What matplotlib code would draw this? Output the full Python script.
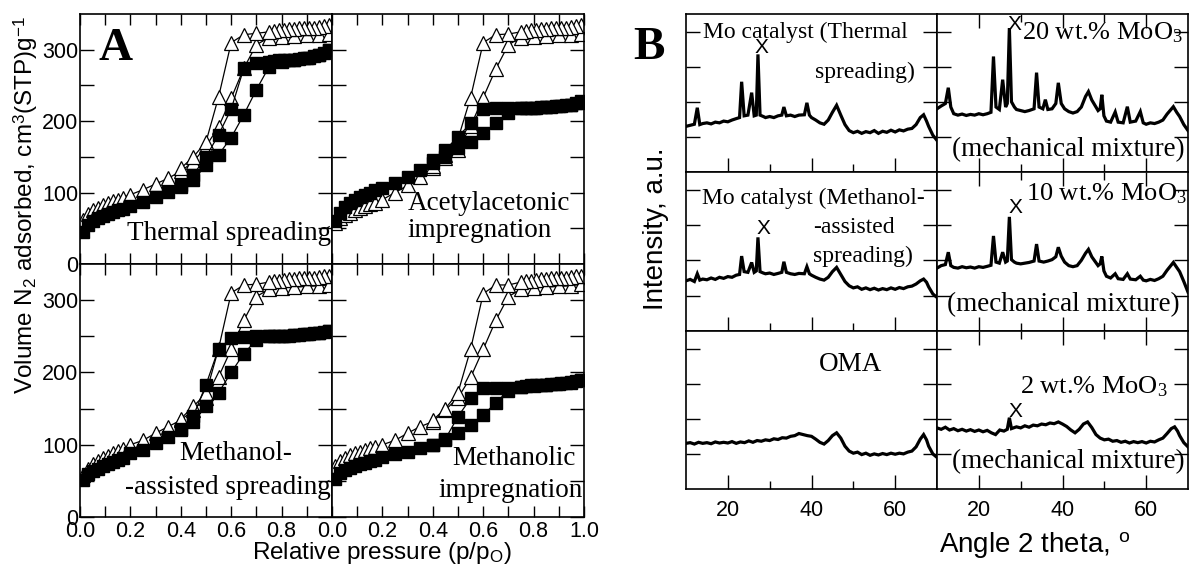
import numpy as np
import matplotlib
matplotlib.use('Agg')
import matplotlib.pyplot as plt

plt.rcParams['font.family'] = ['Liberation Sans', 'DejaVu Sans']
plt.rcParams['mathtext.fontset'] = 'custom'
plt.rcParams['mathtext.rm'] = 'Liberation Serif'
plt.rcParams['mathtext.sf'] = 'Liberation Sans'
plt.rcParams['mathtext.it'] = 'Liberation Serif:italic'
SERIF = ['Liberation Serif', 'DejaVu Serif']

# ---------------- panel A: N2 isotherms ----------------
P_ADS = [0.01, 0.03, 0.05, 0.07, 0.09, 0.11, 0.13, 0.15, 0.17, 0.20, 0.25, 0.30, 0.35,
         0.40, 0.45, 0.50, 0.55, 0.60, 0.65, 0.70, 0.75, 0.80, 0.85, 0.90, 0.95, 0.99]
P_DES = [0.99, 0.97, 0.95, 0.93, 0.91, 0.89, 0.87, 0.85, 0.83, 0.81, 0.79, 0.77, 0.75,
         0.70, 0.65, 0.60, 0.55, 0.50, 0.45, 0.40]

# open triangles (support) and filled squares (Mo catalyst)
TS_TRI_ADS = [62, 70, 75, 79, 82, 85, 88, 90, 93, 97, 104, 112, 120, 130, 143, 165, 192, 232, 274, 307, 317, 318, 319, 320, 321, 322]
TS_TRI_DES = [334, 333, 332, 331, 331, 330, 330, 329, 329, 328, 327, 326, 325, 323, 321, 310, 234, 171, 150, 134]
TS_SQ_ADS = [45, 54, 60, 64, 67, 70, 73, 75, 77, 81, 87, 94, 101, 108, 118, 138, 153, 177, 209, 244, 276, 283, 285, 288, 292, 300]
TS_SQ_DES = [300, 296, 293, 291, 289, 288, 287, 286, 286, 285, 285, 284, 283, 282, 274, 217, 181, 150, 125, 110]

AI_TRI_ADS = [58, 64, 68, 72, 75, 78, 81, 84, 86, 90, 100, 110, 122, 134, 148, 160, 193, 233, 273, 307, 317, 318, 319, 320, 321, 322]
AI_TRI_DES = [334, 333, 332, 331, 331, 330, 330, 329, 329, 328, 327, 326, 325, 322, 321, 310, 233, 175, 152, 137]
AI_SQ_ADS = [60, 72, 80, 86, 90, 94, 97, 100, 103, 107, 114, 122, 132, 141, 150, 163, 171, 183, 198, 211, 218, 219, 220, 221, 223, 226]
AI_SQ_DES = [228, 225, 223, 222, 221, 221, 220, 220, 220, 219, 219, 219, 218, 218, 218, 217, 197, 178, 160, 145]

MA_TRI_ADS = [58, 67, 73, 78, 82, 85, 88, 91, 94, 100, 106, 116, 125, 134, 148, 165, 194, 232, 272, 305, 315, 317, 318, 319, 320, 321]
MA_TRI_DES = [334, 333, 332, 331, 331, 330, 330, 329, 329, 328, 327, 326, 325, 322, 321, 310, 233, 171, 153, 136]
MA_SQ_ADS = [51, 60, 64, 67, 70, 73, 76, 79, 82, 88, 93, 103, 111, 120, 132, 153, 172, 200, 226, 245, 250, 251, 252, 253, 255, 258]
MA_SQ_DES = [258, 256, 255, 254, 253, 253, 252, 252, 251, 251, 251, 250, 250, 250, 249, 247, 233, 183, 140, 122]

MI_TRI_ADS = [70, 78, 82, 86, 88, 90, 92, 95, 97, 100, 106, 116, 125, 132, 148, 165, 193, 232, 272, 305, 315, 317, 318, 319, 320, 322]
MI_TRI_DES = [334, 333, 332, 331, 331, 330, 330, 329, 329, 328, 327, 326, 325, 321, 321, 309, 232, 172, 150, 134]
MI_SQ_ADS = [53, 61, 65, 68, 71, 73, 75, 77, 79, 83, 87, 90, 95, 100, 106, 116, 127, 141, 158, 175, 180, 181, 182, 184, 186, 190]
MI_SQ_DES = [190, 188, 187, 186, 185, 184, 184, 183, 183, 182, 182, 181, 180, 179, 179, 178, 164, 139, 108, 100]

# ---------------- panel B: XRD patterns (2theta, intensity) ----------------
XRD_TS = [(10, 1.30), (11, 1.33), (12, 1.36), (12.7, 1.83), (13.3, 1.35), (14, 1.38), (15, 1.40), (16, 1.37),
          (17, 1.42), (18, 1.40), (19, 1.45), (20, 1.43), (21, 1.48), (22, 1.52), (22.8, 1.55), (23.3, 2.57),
          (23.9, 1.60), (24.8, 1.62), (25.7, 2.26), (26.3, 1.60), (26.8, 1.62), (27.2, 3.35), (27.7, 1.62),
          (28.5, 1.58), (29, 1.55), (30, 1.58), (31, 1.55), (32, 1.60), (32.9, 1.62), (33.4, 1.85), (34, 1.60),
          (35, 1.62), (36, 1.58), (37, 1.62), (38.3, 1.63), (38.9, 1.97), (39.5, 1.62), (40, 1.55), (41, 1.48),
          (42, 1.40), (43, 1.36), (44, 1.48), (45, 1.70), (46, 1.90), (47, 1.62), (48, 1.35), (49, 1.18),
          (50, 1.12), (51, 1.16), (52, 1.10), (53, 1.15), (54, 1.12), (55, 1.18), (56, 1.10), (57, 1.16),
          (58, 1.13), (59, 1.19), (60, 1.14), (61, 1.20), (62, 1.17), (63, 1.22), (64, 1.24), (65, 1.35),
          (66, 1.55), (66.8, 1.63), (67.5, 1.45), (68, 1.30), (69, 1.05), (70, 0.90)]
XRD_MA = [(10, 1.42), (11, 1.46), (12, 1.40), (12.7, 1.62), (13.3, 1.44), (14, 1.47), (15, 1.45), (16, 1.50),
          (17, 1.46), (18, 1.52), (19, 1.49), (20, 1.54), (21, 1.52), (22, 1.58), (22.8, 1.60), (23.3, 2.12),
          (23.9, 1.68), (24.8, 1.66), (25.7, 1.94), (26.3, 1.66), (26.8, 1.70), (27.2, 2.65), (27.7, 1.68),
          (28.5, 1.64), (29, 1.62), (30, 1.64), (31, 1.60), (32, 1.63), (32.9, 1.66), (33.4, 1.96), (34, 1.66),
          (35, 1.62), (36, 1.60), (37, 1.63), (38.3, 1.62), (38.9, 1.82), (39.5, 1.62), (40, 1.58), (41, 1.52),
          (42, 1.47), (43, 1.44), (44, 1.52), (45, 1.68), (46, 1.80), (47, 1.60), (48, 1.40), (49, 1.28),
          (50, 1.22), (51, 1.25), (52, 1.18), (53, 1.22), (54, 1.17), (55, 1.21), (56, 1.16), (57, 1.20),
          (58, 1.17), (59, 1.22), (60, 1.18), (61, 1.23), (62, 1.20), (63, 1.25), (64, 1.27), (65, 1.33),
          (66, 1.42), (66.8, 1.47), (67.5, 1.38), (68, 1.25), (69, 1.05), (70, 0.95)]
XRD_OMA = [(10, 1.30), (11, 1.32), (12, 1.28), (13, 1.33), (14, 1.30), (15, 1.32), (16, 1.29), (17, 1.34),
           (18, 1.31), (19, 1.33), (20, 1.31), (21, 1.35), (22, 1.30), (23, 1.34), (24, 1.32), (25, 1.37),
           (26, 1.33), (27, 1.38), (28, 1.36), (29, 1.40), (30, 1.38), (31, 1.43), (32, 1.41), (33, 1.46),
           (34, 1.45), (35, 1.50), (36, 1.52), (37, 1.58), (38, 1.55), (39, 1.52), (40, 1.50), (41, 1.42),
           (42, 1.33), (43, 1.28), (44, 1.38), (45, 1.52), (46, 1.60), (47, 1.45), (48, 1.22), (49, 1.08),
           (50, 1.02), (51, 1.05), (52, 0.98), (53, 1.02), (54, 0.96), (55, 1.00), (56, 0.97), (57, 1.01),
           (58, 0.98), (59, 1.02), (60, 0.99), (61, 1.02), (62, 1.00), (63, 1.05), (64, 1.08), (65, 1.20),
           (66, 1.42), (66.8, 1.55), (67.5, 1.40), (68, 1.22), (69, 1.00), (70, 0.90)]
XRD_20 = [(10, 1.80), (11, 1.88), (12, 1.95), (12.7, 2.40), (13.3, 1.85), (14, 1.66), (15, 1.62), (16, 1.65),
          (17, 1.61), (18, 1.64), (19, 1.62), (20, 1.66), (21, 1.63), (22, 1.66), (22.9, 1.70), (23.5, 3.29),
          (24.1, 1.85), (24.9, 1.78), (25.7, 2.63), (26.4, 1.85), (26.8, 1.95), (27.3, 4.10), (27.8, 2.00),
          (28.5, 1.85), (29, 1.78), (30, 1.75), (31, 1.72), (32, 1.75), (33.2, 1.80), (33.8, 2.83), (34.4, 1.85),
          (35.3, 1.80), (35.9, 2.06), (36.5, 1.78), (37.5, 1.80), (38.4, 1.95), (39.0, 2.54), (39.7, 1.95),
          (40.5, 1.80), (41.5, 1.72), (42.5, 1.68), (43.5, 1.72), (44.5, 1.85), (45.5, 2.15), (46.2, 2.29),
          (47, 2.05), (48.5, 1.75), (49.0, 1.80), (49.4, 2.20), (49.9, 1.60), (50.5, 1.45), (51.5, 1.42),
          (52.6, 1.71), (53.3, 1.42), (54.5, 1.40), (55.5, 1.86), (56.2, 1.42), (57.5, 1.45), (58.6, 1.72),
          (59.3, 1.40), (60, 1.36), (61, 1.40), (62, 1.38), (63, 1.42), (64, 1.48), (65, 1.65), (66.5, 1.86),
          (67.3, 1.70), (68, 1.58), (69, 1.35), (70, 1.18)]
XRD_10 = [(10, 1.78), (11, 1.85), (12, 1.88), (12.7, 2.23), (13.3, 1.85), (14, 1.80), (15, 1.78), (16, 1.82),
          (17, 1.79), (18, 1.81), (19, 1.78), (20, 1.82), (21, 1.80), (22, 1.83), (22.9, 1.86), (23.5, 2.69),
          (24.1, 1.95), (24.9, 1.92), (25.7, 2.23), (26.4, 1.95), (26.8, 1.98), (27.3, 3.23), (27.8, 2.02),
          (28.5, 1.95), (29, 1.92), (30, 1.90), (31, 1.92), (32, 1.94), (33.2, 1.98), (33.8, 2.46), (34.4, 1.98),
          (35.5, 1.95), (36.5, 1.98), (37.5, 2.02), (38.4, 2.10), (39.0, 2.37), (39.7, 2.12), (40.5, 1.95),
          (41.5, 1.85), (42.5, 1.82), (43.5, 1.85), (44.5, 2.00), (45.5, 2.20), (46.2, 2.31), (47, 2.10),
          (48.5, 1.85), (49.0, 1.90), (49.4, 2.11), (49.9, 1.70), (50.5, 1.55), (51.5, 1.50), (52.6, 1.62),
          (53.3, 1.48), (54.5, 1.46), (55.5, 1.62), (56.2, 1.47), (57.5, 1.45), (58.6, 1.55), (59.3, 1.44),
          (60, 1.42), (61, 1.46), (62, 1.43), (63, 1.48), (64, 1.55), (65, 1.72), (66.5, 1.94), (67.3, 1.80),
          (68, 1.68), (69, 1.40), (70, 1.10)]
XRD_2 = [(10, 1.74), (11, 1.70), (12, 1.76), (13, 1.68), (14, 1.72), (15, 1.66), (16, 1.70), (17, 1.65),
         (18, 1.69), (19, 1.64), (20, 1.68), (21, 1.63), (22, 1.67), (23, 1.60), (24, 1.55), (25, 1.68),
         (26, 1.65), (26.8, 1.70), (27.3, 2.03), (27.8, 1.72), (28.5, 1.75), (29, 1.77), (30, 1.74), (31, 1.80),
         (32, 1.76), (33, 1.82), (34, 1.80), (35, 1.85), (36, 1.83), (37, 1.88), (38, 1.86), (39, 1.91),
         (40, 1.85), (41, 1.78), (42, 1.68), (43, 1.60), (44, 1.70), (45, 1.85), (46, 1.91), (47, 1.75),
         (48, 1.55), (49, 1.45), (50, 1.40), (51, 1.42), (52, 1.36), (53, 1.38), (54, 1.33), (55, 1.36),
         (56, 1.31), (57, 1.35), (58, 1.32), (59, 1.35), (60, 1.31), (61, 1.36), (62, 1.34), (63, 1.40),
         (64, 1.45), (65, 1.58), (66, 1.72), (66.8, 1.77), (67.5, 1.65), (68, 1.52), (69, 1.32), (70, 1.20)]

# position of the "X" mark above the main MoO3 reflection (None: no mark)
X_TS = (28.1, 3.54)
X_MA = (28.5, 2.89)
X_20 = (28.5, 4.2)
X_10 = (28.7, 3.5)
X_2 = (28.7, 2.21)

W, H = 1189, 567
fig = plt.figure(figsize=(W / 100, H / 100), dpi=100)


def rect(x0, y0, x1, y1):
    # pixel box -> figure fraction
    return [x0 / W, 1 - y1 / H, (x1 - x0) / W, (y1 - y0) / H]


def iso_panel(box, tri_ads, tri_des, sq_ads, sq_des, col, row):
    ax = fig.add_axes(rect(*box))
    for p, v in ((P_ADS, tri_ads), (P_DES, tri_des)):
        ax.plot(p, v, '-^', color='k', lw=0.9, ms=9.5, mfc='white', mec='k', mew=0.9)
    for p, v in ((P_ADS, sq_ads), (P_DES, sq_des)):
        ax.plot(p, v, '-s', color='k', lw=0.9, ms=8, mfc='k', mec='k')
    ax.set_xlim(0, 1)
    ax.set_ylim(0, 350)
    if col == 0:
        ax.set_xticks([0, 0.2, 0.4, 0.6, 0.8])
        ax.set_xticks([0.1, 0.3, 0.5, 0.7, 0.9, 1.0], minor=True)
    else:
        ax.set_xticks([0, 0.2, 0.4, 0.6, 0.8, 1.0])
        ax.set_xticks([0.1, 0.3, 0.5, 0.7, 0.9], minor=True)
    ax.set_yticks([0, 100, 200, 300])
    ax.set_yticks([50, 150, 250], minor=True)
    ax.tick_params(which='both', direction='in', top=True, right=True, labelsize=15.5,
                   width=1.0, labelleft=(col == 0), labelbottom=(row == 1))
    ax.tick_params(axis='x', which='both', length=8, pad=3)
    ax.tick_params(axis='y', which='both', length=10, pad=1)
    for s in ax.spines.values():
        s.set_linewidth(1.2)
    return ax


ax1 = iso_panel((80, 14, 332, 264), TS_TRI_ADS, TS_TRI_DES, TS_SQ_ADS, TS_SQ_DES, 0, 0)
ax2 = iso_panel((332, 14, 584, 264), AI_TRI_ADS, AI_TRI_DES, AI_SQ_ADS, AI_SQ_DES, 1, 0)
ax3 = iso_panel((80, 264, 332, 517), MA_TRI_ADS, MA_TRI_DES, MA_SQ_ADS, MA_SQ_DES, 0, 1)
ax4 = iso_panel((332, 264, 584, 517), MI_TRI_ADS, MI_TRI_DES, MI_SQ_ADS, MI_SQ_DES, 1, 1)

fa = dict(family=SERIF, fontsize=19.5)
ax1.text(0.995, 42, 'Thermal spreading', ha='right', va='center', **fa)
ax2.text(0.30, 85, 'Acetylacetonic', ha='left', va='center', **fa)
ax2.text(0.30, 47, 'impregnation', ha='left', va='center', **fa)
ax3.text(0.84, 88, 'Methanol-', ha='right', va='center', **fa)
ax3.text(0.995, 41, '-assisted spreading', ha='right', va='center', **fa)
ax4.text(0.965, 81, 'Methanolic', ha='right', va='center', **fa)
ax4.text(0.995, 37, 'impregnation', ha='right', va='center', **fa)

fig.text(116 / W, 1 - 49 / H, 'A', family=SERIF, fontsize=34, fontweight='bold', ha='center', va='center')
fig.text(26 / W, 1 - 205 / H, r'Volume N$_{\mathsf{2}}$ adsorbed, cm$^{\mathsf{3}}$(STP)g$^{\mathsf{-1}}$',
         rotation=90, fontsize=17.5, ha='center', va='center')
fig.text(382 / W, 1 - 553 / H, r'Relative pressure (p/p$_{\mathsf{O}}$)', fontsize=17.5, ha='center', va='center')


# ---------------- panel B ----------------
def xrd_panel(box, data, mark, col, row):
    ax = fig.add_axes(rect(*box))
    x, y = np.array(data).T
    ax.plot(x, y, color='k', lw=2.3, solid_joinstyle='miter')
    if mark is not None:
        ax.text(mark[0], mark[1], 'X', fontsize=15, ha='center', va='center')
    ax.set_xlim(10, 70)
    ax.set_ylim(0, 4.5)
    ax.set_xticks([20, 40, 60])
    ax.set_xticks([30, 50], minor=True)
    ax.set_yticks([1, 2, 3, 4])
    ax.tick_params(which='both', direction='in', top=(col == 1), right=True, width=1.0,
                   labelleft=False, labelbottom=(row == 2), labelsize=15.5, pad=8)
    ax.tick_params(axis='x', which='major', length=10)
    ax.tick_params(axis='x', which='minor', length=6)
    ax.tick_params(axis='y', length=10)
    for s in ax.spines.values():
        s.set_linewidth(1.2)
    return ax


b1 = xrd_panel((686, 14, 937, 172), XRD_TS, X_TS, 0, 0)
b2 = xrd_panel((686, 172, 937, 331), XRD_MA, X_MA, 0, 1)
b3 = xrd_panel((686, 331, 937, 489), XRD_OMA, None, 0, 2)
b4 = xrd_panel((937, 14, 1188, 172), XRD_20, X_20, 1, 0)
b5 = xrd_panel((937, 172, 1188, 331), XRD_10, X_10, 1, 1)
b6 = xrd_panel((937, 331, 1188, 489), XRD_2, X_2, 1, 2)

fs = dict(family=SERIF, fontsize=17)
fb = dict(family=SERIF, fontsize=19.5)
fw = dict(family=SERIF, fontsize=19)
b1.text(14.1, 3.97, 'Mo catalyst (Thermal', ha='left', va='center', **fs)
b1.text(64.8, 2.83, 'spreading)', ha='right', va='center', **fs)
b2.text(13.8, 3.74, 'Mo catalyst (Methanol-', ha='left', va='center', **fs)
b2.text(40.4, 2.94, '-assisted', ha='left', va='center', **fs)
b2.text(40.4, 2.11, 'spreading)', ha='left', va='center', **fs)
b3.text(49.4, 3.54, 'OMA', ha='center', va='center', **fb)
b4.text(30.3, 3.97, '20 wt.% MoO$_3$', ha='left', va='center', **fw)
b4.text(13.6, 0.63, '(mechanical mixture)', ha='left', va='center', **fb)
b5.text(31.2, 3.89, '10 wt.% MoO$_3$', ha='left', va='center', **fw)
b5.text(12.4, 0.74, '(mechanical mixture)', ha='left', va='center', **fb)
b6.text(29.9, 2.91, '2 wt.% MoO$_3$', ha='left', va='center', **fw)
b6.text(13.6, 0.77, '(mechanical mixture)', ha='left', va='center', **fb)

fig.text(649 / W, 1 - 48 / H, 'B', family=SERIF, fontsize=34, fontweight='bold', ha='center', va='center')
fig.text(656 / W, 1 - 229 / H, 'Intensity, a.u.', rotation=90, fontsize=20, ha='center', va='center')
fig.text(1035 / W, 1 - 545 / H, r'Angle 2 theta, $^{\mathsf{o}}$', fontsize=20, ha='center', va='center')

fig.savefig('out.png', dpi=100)
